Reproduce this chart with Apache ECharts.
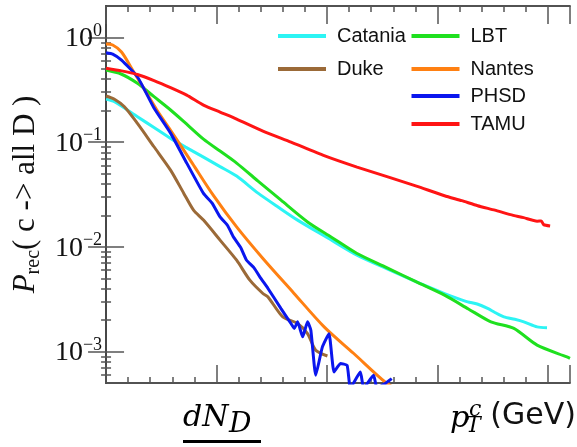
<!DOCTYPE html>
<html>
<head>
<meta charset="utf-8">
<script src="https://cdn.jsdelivr.net/npm/echarts@6/dist/echarts.min.js"></script>
<style>
  html, body { margin: 0; padding: 0; background: #ffffff; }
  #chart { width: 577px; height: 447px; }
</style>
</head>
<body>
<div id="chart"></div>
<script>
// Recombination probability c -> all D versus charm-quark pT, one curve per model.
// Each entry is [pT (GeV), P_rec].
const catania = [
  [0, 0.258], [0.38, 0.243], [1.42, 0.175], [2.17, 0.138], [2.92, 0.1087],
  [3.6, 0.0897], [4.41, 0.0720], [5.16, 0.0584], [5.91, 0.0474], [6.88, 0.0326],
  [7.8, 0.0239], [8.67, 0.0180], [10.0, 0.01228], [11.36, 0.00832], [12.7, 0.00618],
  [14.05, 0.00462], [15.32, 0.00358], [15.9, 0.00322], [16.37, 0.00298], [16.8, 0.00284],
  [17.27, 0.00258], [17.6, 0.00236], [18.01, 0.00214], [18.5, 0.00203], [18.91, 0.00192],
  [19.51, 0.00172], [19.96, 0.00169]
];
const duke = [
  [0, 0.276], [0.38, 0.257], [0.83, 0.218], [1.42, 0.151], [2.17, 0.0904],
  [2.92, 0.0541], [3.52, 0.0324], [3.96, 0.0224], [4.41, 0.0180], [5.16, 0.0116],
  [5.91, 0.00745], [6.51, 0.00480], [7.10, 0.00358], [7.33, 0.00332], [8.0, 0.00214],
  [8.67, 0.00185], [9.12, 0.00148], [9.49, 0.00103], [10.02, 0.000906]
];
const lbt = [
  [0, 0.489], [0.68, 0.448], [1.42, 0.365], [2.17, 0.272], [2.92, 0.203],
  [3.6, 0.152], [4.41, 0.107], [5.16, 0.0822], [5.91, 0.0631], [6.88, 0.0425],
  [7.92, 0.0279], [9.12, 0.0173], [10.2, 0.01237], [11.36, 0.00863], [12.7, 0.00634],
  [14.05, 0.00462], [15.32, 0.00345], [16.4, 0.00255], [17.42, 0.00192], [18.46, 0.00166],
  [19.51, 0.00115], [20.86, 0.000887], [21, 0.00086]
];
const nantes = [
  [0, 0.867], [0.3, 0.848], [0.7, 0.727], [1.2, 0.489], [1.7, 0.329],
  [2.3, 0.203], [2.92, 0.130], [3.9, 0.0631], [4.85, 0.0312], [5.91, 0.0155],
  [7.1, 0.00774], [8.5, 0.00361], [9.87, 0.00172], [11.2, 0.000962], [12.63, 0.000511],
  [13.2, 0.00043]
];
const phsd = [
  [0, 0.716], [0.3, 0.695], [0.7, 0.609], [1.42, 0.422], [2.17, 0.212],
  [2.92, 0.122], [3.66, 0.0627], [4.41, 0.0324], [4.8, 0.0262], [5.16, 0.0193],
  [5.5, 0.0160], [5.76, 0.01246], [6.1, 0.0098], [6.36, 0.00745], [6.7, 0.0063],
  [6.96, 0.00516], [7.33, 0.00400], [7.92, 0.00257], [8.37, 0.00185], [8.52, 0.00166],
  [8.67, 0.00192], [8.9, 0.00138], [9.12, 0.00192], [9.27, 0.00160], [9.49, 0.000593],
  [9.79, 0.00110], [10.09, 0.00148], [10.32, 0.000637], [10.61, 0.000767], [10.91, 0.000738],
  [11.06, 0.00045], [11.51, 0.000637], [11.66, 0.00045], [12.11, 0.000593], [12.26, 0.00045],
  [12.63, 0.000495], [12.93, 0.000551]
];
const tamu = [
  [0, 0.508], [0.7, 0.480], [1.42, 0.443], [2.17, 0.388], [2.92, 0.3324],
  [3.65, 0.2819], [4.41, 0.2262], [5.16, 0.1939], [5.91, 0.1663], [7.1, 0.1276],
  [8.37, 0.1002], [9.87, 0.0744], [11.36, 0.0578], [12.86, 0.0458], [14.05, 0.0380],
  [15.32, 0.0308], [16.1, 0.0276], [16.82, 0.0247], [17.6, 0.0224], [18.31, 0.0203],
  [18.9, 0.0190], [19.51, 0.0176], [19.7, 0.0177], [19.81, 0.0163], [20.1, 0.0158]
];

const modelNames = ['Catania', 'Duke', 'LBT', 'Nantes', 'PHSD', 'TAMU'];
const modelData = [catania, duke, lbt, nantes, phsd, tamu];
const modelColors = ['#2cf4f4', '#9b6a38', '#1fe01f', '#ff8012', '#0a16ee', '#ff1414'];
const modelSmooth = [0.25, 0.25, 0.25, 0.3, 0.15, 0.2];

// y axis: decade ticks with labels, 2..9 minor ticks in between
const yMin = 5e-4;
const yMax = 2;
const yMajorTicks = [1e-3, 1e-2, 1e-1, 1];
const yTickExponents = ['\u22123', '\u22122', '\u22121', '0'];
const yMinorTicks = [];
for (let d = -4; d <= 0; d++) {
  for (let m = 2; m <= 9; m++) {
    const v = Number((m * Math.pow(10, d)).toPrecision(3));
    if (v > yMin && v < yMax) yMinorTicks.push(v);
  }
}

// x axis: pT in GeV, major every 5, minor every 1
const xMin = 0;
const xMax = 21;

const axisLineStyle = { color: '#474747', width: 1.5 };
const tickLineStyle = { color: '#555555', width: 1.5 };

function xAxisDef(position, interval, tickLen) {
  return {
    type: 'value', position: position, min: xMin, max: xMax, interval: interval,
    axisLine: { show: true, lineStyle: axisLineStyle },
    axisTick: { show: true, inside: true, length: tickLen, lineStyle: tickLineStyle },
    axisLabel: { show: false },
    splitLine: { show: false }
  };
}

function yAxisDef(position, ticks, tickLen, withLabels) {
  const ax = {
    type: 'log', logBase: 10, position: position, min: yMin, max: yMax,
    axisLine: { show: true, lineStyle: axisLineStyle },
    axisTick: { show: true, inside: true, length: tickLen, lineStyle: tickLineStyle, customValues: ticks },
    axisLabel: { show: false },
    splitLine: { show: false },
    minorTick: { show: false }
  };
  if (withLabels) {
    ax.axisLabel = {
      show: true,
      customValues: ticks,
      margin: 4,
      formatter: function (v) {
        let idx = 0;
        yMajorTicks.forEach(function (t, i) {
          if (Math.abs(Math.log10(t) - Math.log10(v)) < 1e-6) idx = i;
        });
        return '{b|10}{s|' + yTickExponents[idx] + '}';
      },
      rich: {
        b: { fontFamily: 'Liberation Serif', fontSize: 28, lineHeight: 31, color: '#111', verticalAlign: 'bottom' },
        s: { fontFamily: 'Liberation Serif', fontSize: 18, lineHeight: 18, color: '#111', verticalAlign: 'top' }
      }
    };
    ax.name = '{p|P}{r|rec}{n|( c -> all D )}';
    ax.nameLocation = 'middle';
    ax.nameRotate = 90;
    ax.nameGap = 59;
    ax.nameTextStyle = {
      rich: {
        p: { fontFamily: 'Liberation Serif', fontStyle: 'italic', fontSize: 31, lineHeight: 34, color: '#111', verticalAlign: 'top' },
        r: { fontFamily: 'Liberation Serif', fontSize: 20, lineHeight: 20, color: '#111', verticalAlign: 'bottom', padding: [16, 0, 0, 0] },
        n: { fontFamily: 'Liberation Serif', fontSize: 31, lineHeight: 34, color: '#111', verticalAlign: 'top' }
      }
    };
  }
  return ax;
}

const legendBase = {
  orient: 'vertical', icon: 'rect', itemWidth: 48, itemHeight: 4, padding: 0,
  selectedMode: false,
  textStyle: { fontFamily: 'Liberation Sans', fontSize: 20, lineHeight: 20, color: '#111', padding: [0, 0, 0, 6] }
};

const chart = echarts.init(document.getElementById('chart'), null, { renderer: 'canvas' });

chart.setOption({
  animation: false,
  backgroundColor: '#ffffff',
  grid: { left: 101.5, right: 7, top: 6, bottom: 64 },
  xAxis: [
    xAxisDef('bottom', 5, 18),
    xAxisDef('bottom', 1, 6),
    xAxisDef('top', 5, 18),
    xAxisDef('top', 1, 6)
  ],
  yAxis: [
    yAxisDef('left', yMajorTicks, 18, true),
    yAxisDef('left', yMinorTicks, 5, false),
    yAxisDef('right', yMajorTicks, 18, false),
    yAxisDef('right', yMinorTicks, 5, false)
  ],
  legend: [
    Object.assign({}, legendBase, { data: ['Catania', 'Duke'], left: 278, top: 26, itemGap: 13 }),
    Object.assign({}, legendBase, { data: ['LBT', 'Nantes'], left: 411.5, top: 26, itemGap: 13 }),
    Object.assign({}, legendBase, { data: ['PHSD', 'TAMU'], left: 411.5, top: 86, itemGap: 8 })
  ],
  series: modelNames.map(function (name, i) {
    return {
      type: 'line', name: name, data: modelData[i],
      xAxisIndex: 0, yAxisIndex: 0,
      showSymbol: false, symbol: 'none', clip: true, smooth: modelSmooth[i],
      lineStyle: { width: 3, color: modelColors[i] },
      itemStyle: { color: modelColors[i] },
      emphasis: { disabled: true }
    };
  }),
  graphic: [
    { type: 'text', x: 183, y: 418, silent: true,
      style: { text: 'dN', font: 'italic 30px "DejaVu Serif"', fill: '#000', align: 'left', verticalAlign: 'middle', textAlign: 'left', textVerticalAlign: 'middle' } },
    { type: 'text', x: 229, y: 424.5, silent: true,
      style: { text: 'D', font: 'italic 28px "DejaVu Serif"', fill: '#000', align: 'left', verticalAlign: 'middle', textAlign: 'left', textVerticalAlign: 'middle' } },
    { type: 'rect', silent: true, shape: { x: 183, y: 440, width: 78, height: 3 }, style: { fill: '#000' } },
    { type: 'text', x: 450, y: 419.6, silent: true,
      style: { text: 'p', font: 'italic 30px "DejaVu Serif"', fill: '#000', align: 'left', verticalAlign: 'middle', textAlign: 'left', textVerticalAlign: 'middle' } },
    { type: 'text', x: 469, y: 410.4, silent: true,
      style: { text: 'c', font: 'italic 22px "DejaVu Serif"', fill: '#000', align: 'left', verticalAlign: 'middle', textAlign: 'left', textVerticalAlign: 'middle' } },
    { type: 'text', x: 466, y: 426.4, silent: true,
      style: { text: 'T', font: 'italic 22px "DejaVu Serif"', fill: '#000', align: 'left', verticalAlign: 'middle', textAlign: 'left', textVerticalAlign: 'middle' } },
    { type: 'text', x: 576, y: 416.5, silent: true,
      style: { text: '(GeV)', font: '30px "DejaVu Sans"', fill: '#111', align: 'right', verticalAlign: 'middle', textAlign: 'right', textVerticalAlign: 'middle' } }
  ]
});
</script>
</body>
</html>
